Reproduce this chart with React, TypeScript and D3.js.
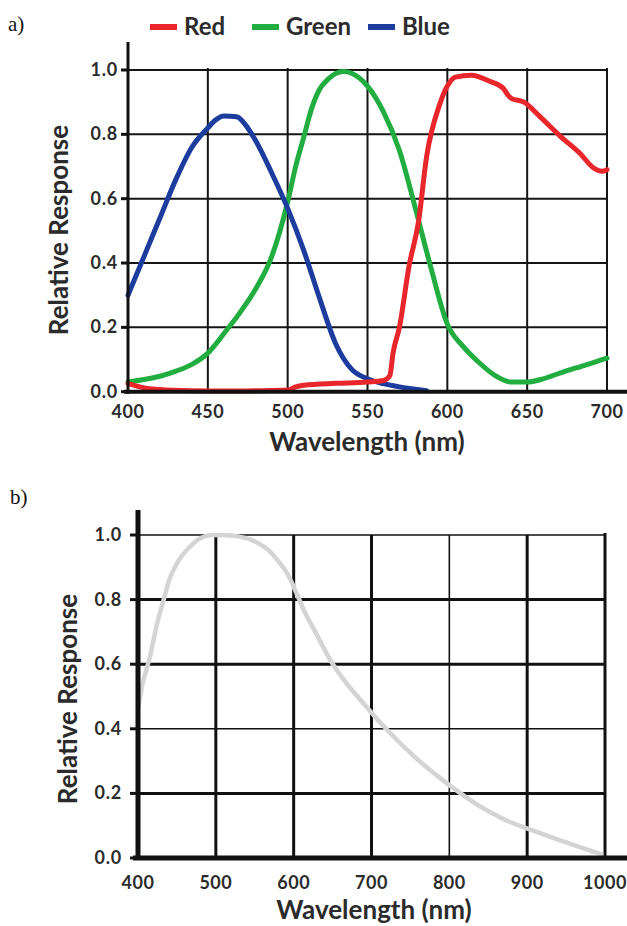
import React from 'react';
import * as d3 from 'd3';

// panel a) sensor RGB response
const redWl = [400, 405, 410, 420, 440, 460, 480, 500, 505, 510, 530, 550, 560, 564, 566, 570, 576, 582, 587, 595, 600, 605, 615, 627, 635, 638, 640, 648, 658, 671, 683, 692, 697, 700];
const redVal = [0.025, 0.018, 0.012, 0.007, 0.003, 0.002, 0.003, 0.005, 0.015, 0.02, 0.026, 0.03, 0.035, 0.05, 0.12, 0.2, 0.39, 0.53, 0.73, 0.89, 0.95, 0.978, 0.984, 0.964, 0.943, 0.922, 0.912, 0.9, 0.855, 0.793, 0.741, 0.694, 0.685, 0.69];

const greenWl = [400, 410, 420, 430, 440, 450, 460, 470, 480, 490, 500, 505, 510, 515, 520, 525, 535, 540, 550, 560, 570, 580, 590, 600, 610, 620, 630, 640, 650, 660, 670, 680, 690, 700];
const greenVal = [0.03, 0.038, 0.048, 0.064, 0.085, 0.12, 0.18, 0.245, 0.32, 0.42, 0.59, 0.7, 0.79, 0.88, 0.94, 0.97, 0.995, 0.99, 0.95, 0.87, 0.75, 0.57, 0.38, 0.21, 0.14, 0.09, 0.05, 0.03, 0.03, 0.04, 0.057, 0.073, 0.088, 0.104];

const blueWl = [400, 410, 420, 430, 440, 450, 455, 460, 468, 475, 480, 490, 500, 510, 520, 530, 540, 550, 560, 570, 580, 587];
const blueVal = [0.3, 0.42, 0.54, 0.66, 0.76, 0.82, 0.845, 0.857, 0.855, 0.82, 0.78, 0.68, 0.57, 0.44, 0.29, 0.15, 0.07, 0.04, 0.025, 0.015, 0.008, 0.003];

const legendNames = ['Red', 'Green', 'Blue'];
const colorsA = ['#e8262c', '#21ad3f', '#1c3c9e'];

const xTicksA = [400, 450, 500, 550, 600, 650, 700];
const yTicks = [0, 0.2, 0.4, 0.6, 0.8, 1.0];

// panel b) mono sensor response
const monoWl = [400, 405, 415, 425, 433, 440, 450, 467, 480, 495, 515, 530, 550, 570, 580, 592, 600, 613, 630, 647, 665, 686, 712, 755, 797, 840, 870, 905, 948, 995];
const monoVal = [0.46, 0.53, 0.62, 0.73, 0.8, 0.86, 0.912, 0.964, 0.99, 1.0, 0.999, 0.995, 0.98, 0.948, 0.92, 0.88, 0.84, 0.768, 0.69, 0.613, 0.55, 0.489, 0.417, 0.314, 0.231, 0.159, 0.12, 0.087, 0.05, 0.012];
const xTicksB = [400, 500, 600, 700, 800, 900, 1000];

// heavier gridlines in panel b (the scan is uneven)
const heavyXB = [500, 600, 700, 900, 1000];
const heavyYB = [0.2, 0.6, 0.8];

const FONT = 'Lato, "Open Sans", sans-serif';
const TXT = '#2b2b2b';

export default function App() {
    const xA = d3.scaleLinear().domain([400, 700]).range([128, 607]);
    const yA = d3.scaleLinear().domain([0, 1]).range([391.7, 70]);
    const xB = d3.scaleLinear().domain([400, 1000]).range([138, 605]);
    const yB = d3.scaleLinear().domain([0, 1]).range([858, 535]);

    const lineA = d3
        .line<[number, number]>()
        .x((d) => xA(d[0]))
        .y((d) => yA(d[1]))
        .curve(d3.curveMonotoneX);
    const lineB = d3
        .line<[number, number]>()
        .x((d) => xB(d[0]))
        .y((d) => yB(d[1]))
        .curve(d3.curveMonotoneX);

    const zip = (a: number[], b: number[]) => a.map((w, i) => [w, b[i]] as [number, number]);
    const seriesA = [zip(redWl, redVal), zip(greenWl, greenVal), zip(blueWl, blueVal)];
    const drawOrder = [1, 2, 0];

    const legendX = [150, 252, 368];

    return (
        <svg width={627} height={926} style={{ position: 'absolute', left: 0, top: 0, background: '#fff' }}>
            {/* ---------- panel a ---------- */}
            <text x={8} y={31} fontFamily='"Liberation Serif", serif' fontSize={21} fill="#111">
                a)
            </text>
            {legendNames.map((n, i) => (
                <g key={n}>
                    <line x1={legendX[i]} x2={legendX[i] + 27} y1={27} y2={27} stroke={colorsA[i]} strokeWidth={6} />
                    <text x={legendX[i] + 34} y={35} fontFamily={FONT} fontWeight={700} fontSize={24} fill={TXT}>
                        {n}
                    </text>
                </g>
            ))}

            {/* grid */}
            {yTicks.slice(1).map((t) => (
                <line key={'gha' + t} x1={xA(400)} x2={xA(700)} y1={yA(t)} y2={yA(t)} stroke="#151515" strokeWidth={2} />
            ))}
            {xTicksA.slice(1).map((t) => (
                <line key={'gva' + t} x1={xA(t)} x2={xA(t)} y1={yA(1) - 2} y2={yA(0)} stroke="#151515" strokeWidth={2} />
            ))}

            {drawOrder.map((i) => (
                <path key={'s' + i} d={lineA(seriesA[i]) || ''} fill="none" stroke={colorsA[i]} strokeWidth={5} strokeLinecap="round" strokeLinejoin="round" />
            ))}

            {/* axes */}
            <line x1={xA(400)} x2={xA(400)} y1={42} y2={yA(0) + 2} stroke="#111" strokeWidth={3} />
            <line x1={xA(400) - 4} x2={627} y1={yA(0)} y2={yA(0)} stroke="#111" strokeWidth={4} />
            {yTicks.map((t) => (
                <g key={'yta' + t}>
                    <line x1={xA(400) - 7} x2={xA(400)} y1={yA(t)} y2={yA(t)} stroke="#111" strokeWidth={3} />
                    <text x={118} y={yA(t) + 6} textAnchor="end" fontFamily={FONT} fontWeight={700} fontSize={18} fill={TXT} letterSpacing={0.8}>
                        {d3.format('.1f')(t)}
                    </text>
                </g>
            ))}
            {xTicksA.map((t) => (
                <text key={'xta' + t} x={xA(t)} y={418} textAnchor="middle" fontFamily={FONT} fontWeight={700} fontSize={18} fill={TXT} letterSpacing={0.5}>
                    {t}
                </text>
            ))}
            <text x={367} y={451} textAnchor="middle" fontFamily={FONT} fontWeight={700} fontSize={26} fill={TXT}>
                Wavelength (nm)
            </text>
            <text transform="translate(68,230) rotate(-90)" textAnchor="middle" fontFamily={FONT} fontWeight={700} fontSize={26} fill={TXT}>
                Relative Response
            </text>

            {/* ---------- panel b ---------- */}
            <text x={10} y={504} fontFamily='"Liberation Serif", serif' fontSize={21} fill="#111">
                b)
            </text>
            {yTicks.slice(1).map((t) => (
                <line key={'ghb' + t} x1={xB(400)} x2={xB(1000)} y1={yB(t)} y2={yB(t)} stroke="#111" strokeWidth={heavyYB.includes(t) ? 3 : 1.6} />
            ))}
            {xTicksB.slice(1).map((t) => (
                <line key={'gvb' + t} x1={xB(t)} x2={xB(t)} y1={yB(1) - (t === 1000 ? 2 : 0)} y2={yB(0)} stroke="#111" strokeWidth={heavyXB.includes(t) ? 3 : 1.6} />
            ))}
            <path d={lineB(zip(monoWl, monoVal)) || ''} fill="none" stroke="#d4d4d4" strokeWidth={4.5} strokeLinecap="round" />

            <line x1={xB(400)} x2={xB(400)} y1={510} y2={yB(0) + 2} stroke="#111" strokeWidth={5} />
            <line x1={xB(400) - 5} x2={627} y1={yB(0)} y2={yB(0)} stroke="#111" strokeWidth={5} />
            {yTicks.map((t) => (
                <g key={'ytb' + t}>
                    <line x1={xB(400) - 8} x2={xB(400)} y1={yB(t)} y2={yB(t)} stroke="#111" strokeWidth={3} />
                    <text x={122} y={yB(t) + 6} textAnchor="end" fontFamily={FONT} fontWeight={700} fontSize={18} fill={TXT} letterSpacing={0.8}>
                        {d3.format('.1f')(t)}
                    </text>
                </g>
            ))}
            {xTicksB.map((t) => (
                <text key={'xtb' + t} x={xB(t)} y={889} textAnchor="middle" fontFamily={FONT} fontWeight={700} fontSize={18} fill={TXT} letterSpacing={0.5}>
                    {t}
                </text>
            ))}
            <text x={374} y={919} textAnchor="middle" fontFamily={FONT} fontWeight={700} fontSize={26} fill={TXT}>
                Wavelength (nm)
            </text>
            <text transform="translate(77,699) rotate(-90)" textAnchor="middle" fontFamily={FONT} fontWeight={700} fontSize={26} fill={TXT}>
                Relative Response
            </text>
        </svg>
    );
}
